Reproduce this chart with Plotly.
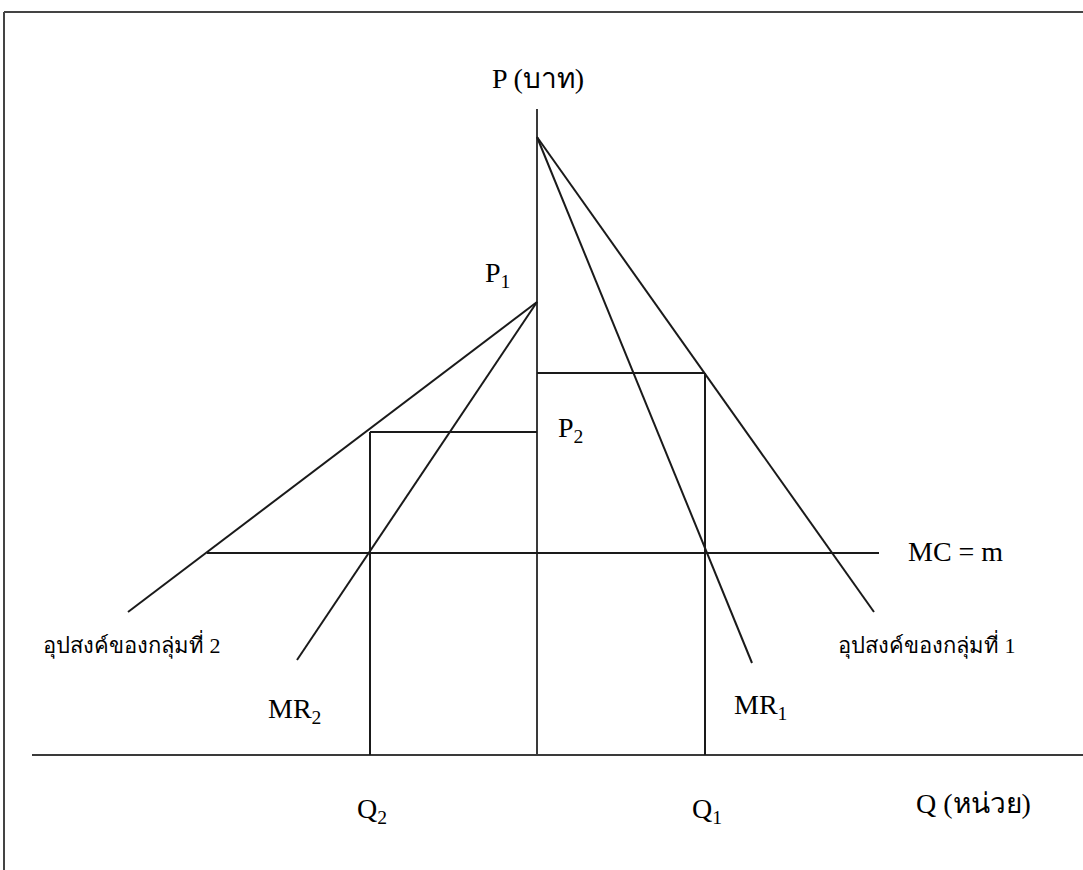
import plotly.graph_objects as go

# Schematic coordinates: origin where the price axis meets the quantity axis.
# Group 2 quantities are drawn to the left (negative), group 1 to the right.
price_axis_q = [0, 0]
price_axis_p = [0, 646]
qty_axis_q = [-505, 546]
qty_axis_p = [0, 0]

demand1_q = [0, 337]
demand1_p = [618, 143]
mr1_q = [0, 215]
mr1_p = [618, 92]

demand2_q = [0, -409]
demand2_p = [453, 143]
mr2_q = [0, -240]
mr2_p = [453, 95]

mc_q = [-330, 342]
mc_p = [202, 202]

q1, p1 = 168, 382
q2, p2 = -167, 323

# label texts, positions and sizes
labels = ["P (บาท)", "P<sub>1</sub>", "P<sub>2</sub>", "MC = m",
          "อุปสงค์ของกลุ่มที่ 2", "อุปสงค์ของกลุ่มที่ 1",
          "MR<sub>2</sub>", "MR<sub>1</sub>", "Q<sub>2</sub>", "Q<sub>1</sub>",
          "Q (หน่วย)"]
label_q = [1, -40, 33, 418, -405, 390, -243, 223, -165, 170, 436]
label_p = [677, 481, 326, 204, 111, 111, 45, 49, -55, -55, -48]
label_size = [28, 28, 28, 28, 22, 22, 28, 28, 28, 28, 28]

FONT = "Liberation Serif, Times New Roman, serif"
LINE = "#1a1a1a"
AXIS = "#3a3a3a"

fig = go.Figure()

def seg(x, y, color=LINE, w=2):
    fig.add_trace(go.Scatter(x=x, y=y, mode="lines",
                             line=dict(color=color, width=w),
                             hoverinfo="skip", showlegend=False))

seg(price_axis_q, price_axis_p, AXIS, 2)
seg(qty_axis_q, qty_axis_p, AXIS, 2)
seg(demand1_q, demand1_p)
seg(mr1_q, mr1_p)
seg(demand2_q, demand2_p)
seg(mr2_q, mr2_p)
seg(mc_q, mc_p)
# equilibrium guides for group 1
seg([q1, q1], [0, p1])
seg([0, q1], [p1, p1])
# equilibrium guides for group 2
seg([q2, q2], [0, p2])
seg([q2, 0], [p2, p2])

for t, x, y, s in zip(labels, label_q, label_p, label_size):
    fig.add_annotation(x=x, y=y, text=t, showarrow=False,
                       font=dict(family=FONT, size=s, color="#000000"),
                       xanchor="center", yanchor="middle")

# outer frame (top and left edges visible)
fig.add_shape(type="line", xref="paper", yref="paper",
              x0=4 / 1083, x1=1.0, y0=1 - 12 / 870, y1=1 - 12 / 870,
              line=dict(color="#444444", width=2))
fig.add_shape(type="line", xref="paper", yref="paper",
              x0=4 / 1083, x1=4 / 1083, y0=0, y1=1 - 12 / 870,
              line=dict(color="#444444", width=2))

fig.update_xaxes(range=[-537, 546], visible=False, fixedrange=True)
fig.update_yaxes(range=[-115, 755], visible=False, fixedrange=True)
fig.update_layout(width=1083, height=870, autosize=False,
                  margin=dict(l=0, r=0, t=0, b=0),
                  paper_bgcolor="white", plot_bgcolor="white",
                  showlegend=False)

fig.write_html(
    "out.html",
    config={"displayModeBar": False},
    post_script="document.body.style.margin='0';document.body.style.overflow='hidden';",
)
